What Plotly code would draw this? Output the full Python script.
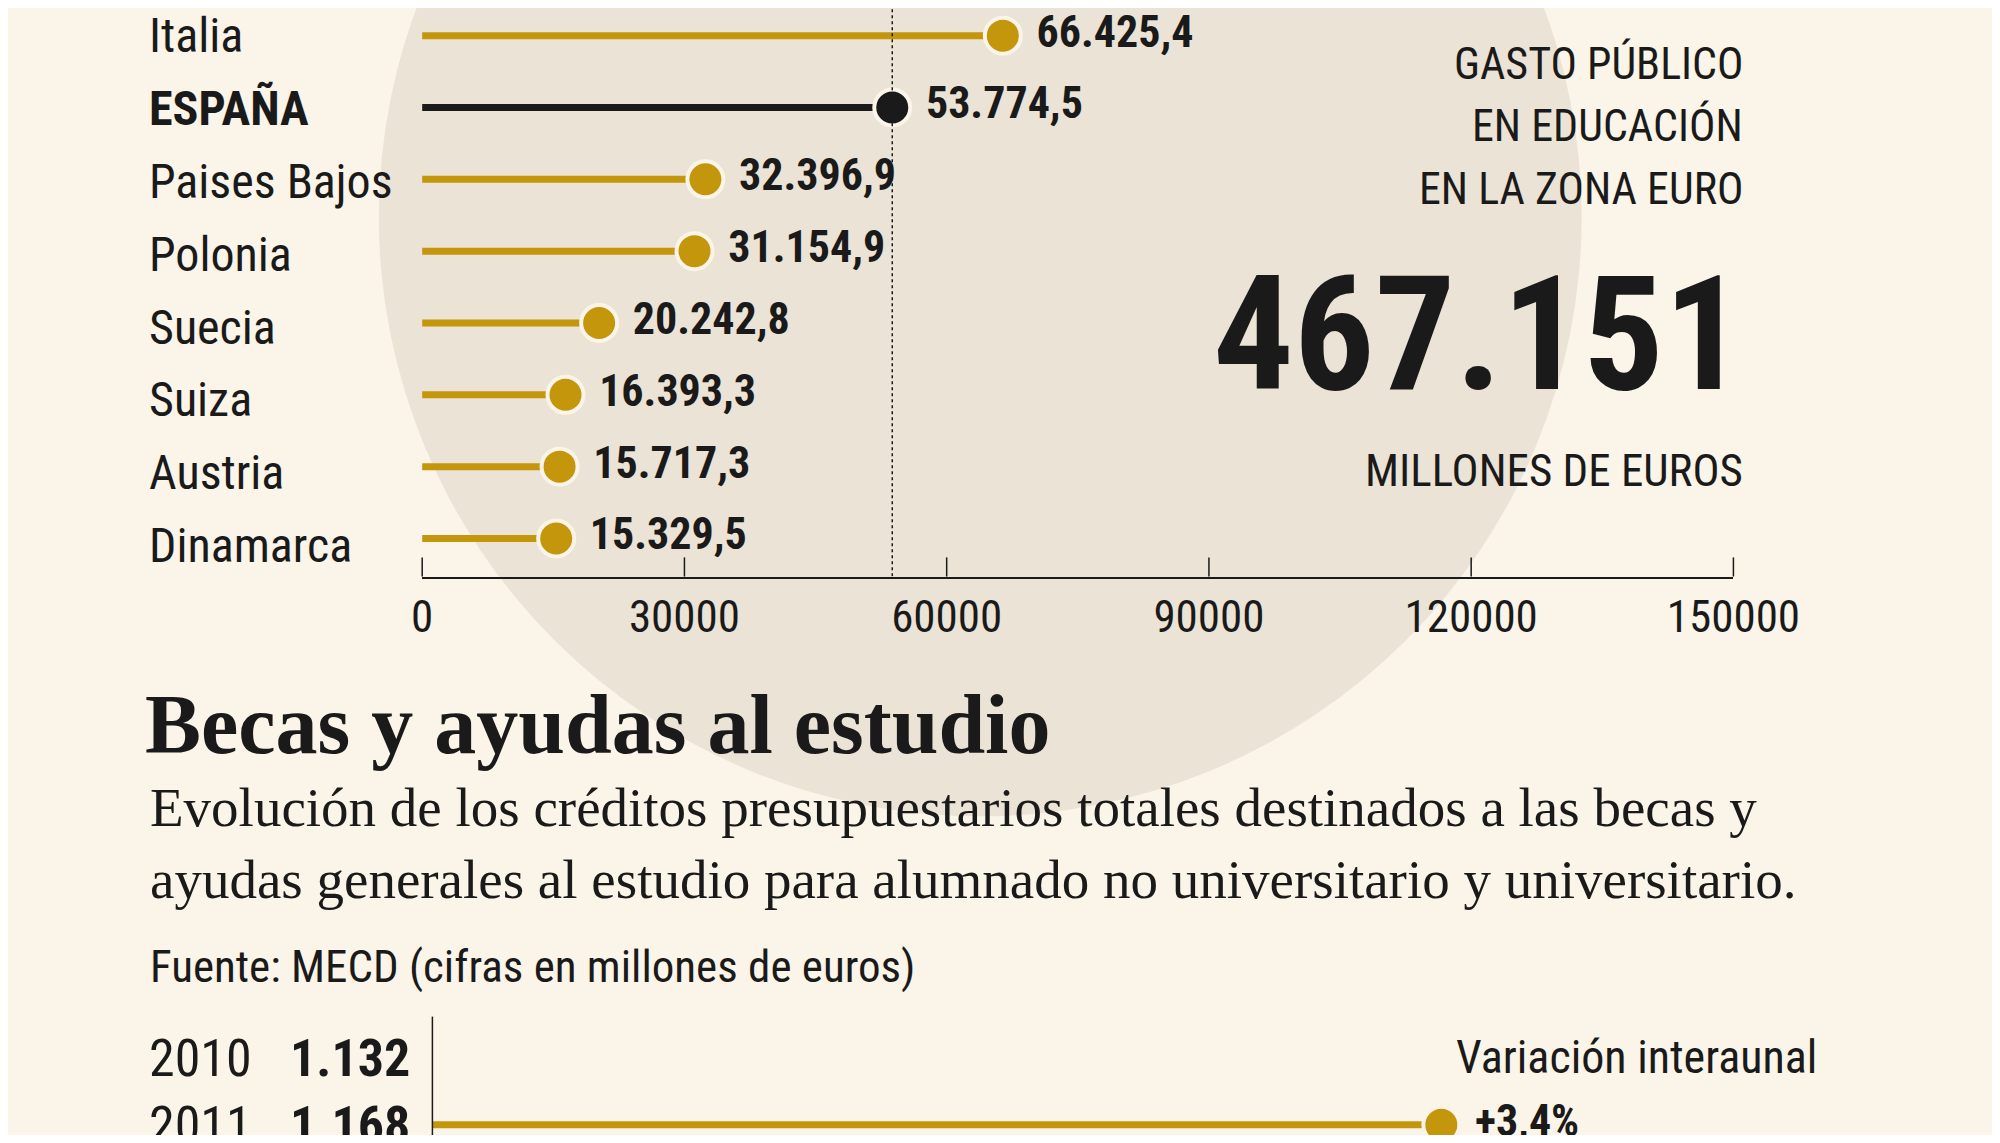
import plotly.graph_objects as go

# datos
paises = ["Italia", "ESPAÑA", "Paises Bajos", "Polonia", "Suecia", "Suiza", "Austria", "Dinamarca"]
gasto = [66425.4, 53774.5, 32396.9, 31154.9, 20242.8, 16393.3, 15717.3, 15329.5]
gasto_txt = ["66.425,4", "53.774,5", "32.396,9", "31.154,9", "20.242,8", "16.393,3", "15.717,3", "15.329,5"]
x_ticks = [0, 30000, 60000, 90000, 120000, 150000]

anios = ["2010", "2011"]
becas_txt = ["1.132", "1.168"]
variacion = [None, 3.4]
variacion_txt = ["", "+3,4%"]

# referencia medida en 1568x896, figura real 1984x1127 (margen del body 8px)
W, H = 1568, 896
S = 2000 / 1568
FW, FH = 1984, 1127
BG = "#fbf4e8"
GOLD = "#c4960c"
DARK = "#1a1a1a"
NARROW = "Liberation Sans Narrow, Roboto Condensed, Arial Narrow, sans-serif"
SERIF = "Liberation Serif, DejaVu Serif, serif"

def px(x):
    return (x * S - 8) / FW

def py(y):
    return 1 - (y * S - 8) / FH

fig = go.Figure()

# lollipops
colores = [DARK if p == "ESPAÑA" else GOLD for p in paises]
idx = list(range(len(paises)))
for i, v in enumerate(gasto):
    fig.add_trace(go.Scatter(x=[-1300, v], y=[i, i], mode="lines",
                             line=dict(color=colores[i], width=7), hoverinfo="skip"))
fig.add_trace(go.Scatter(x=gasto, y=idx, mode="markers+text",
                         marker=dict(size=36, color=colores, line=dict(color=BG, width=4)),
                         text=gasto_txt, textposition="middle right",
                         textfont=dict(family=NARROW, size=44, color=DARK),
                         texttemplate="<b> %{text}</b>", cliponaxis=False))
# linea punteada España
fig.add_trace(go.Scatter(x=[gasto[1], gasto[1]], y=[-0.45, 7.53], mode="lines",
                         line=dict(color=DARK, width=1.5, dash="dot"), hoverinfo="skip"))

# segundo grafico
fig.add_trace(go.Scatter(x=[0, variacion[1]], y=[1, 1], xaxis="x2", yaxis="y2", mode="lines",
                         line=dict(color=GOLD, width=7), hoverinfo="skip"))
fig.add_trace(go.Scatter(x=variacion, y=[0, 1], xaxis="x2", yaxis="y2", mode="markers+text",
                         marker=dict(size=36, color=GOLD, line=dict(color=BG, width=4)),
                         text=variacion_txt, textposition="middle right",
                         textfont=dict(family=NARROW, size=44, color=DARK),
                         texttemplate="<b> %{text}</b>", cliponaxis=False))

ann = []
for i, p in enumerate(paises):
    label = "<b>%s</b>" % p if p == "ESPAÑA" else p
    ann.append(dict(x=px(115), y=py(28 + 57.1 * i), xref="paper", yref="paper", text=label,
                    showarrow=False, xanchor="left", yanchor="middle",
                    font=dict(family=NARROW, size=48, color=DARK)))
for t, yy in [("GASTO PÚBLICO", 50), ("EN EDUCACIÓN", 99), ("EN LA ZONA EURO", 148)]:
    ann.append(dict(x=px(1368), y=py(yy), xref="paper", yref="paper", text=t, showarrow=False,
                    xanchor="right", yanchor="middle", font=dict(family=NARROW, size=44, color=DARK)))
ann.append(dict(x=px(1370), y=py(262), xref="paper", yref="paper", text="<b>467.151</b>",
                showarrow=False, xanchor="right", yanchor="middle",
                font=dict(family=NARROW, size=160, color=DARK)))
ann.append(dict(x=px(1368), y=py(369), xref="paper", yref="paper", text="MILLONES DE EUROS",
                showarrow=False, xanchor="right", yanchor="middle",
                font=dict(family=NARROW, size=45, color=DARK)))
ann.append(dict(x=px(112), y=py(568), xref="paper", yref="paper", text="<b>Becas y ayudas al estudio</b>",
                showarrow=False, xanchor="left", yanchor="middle",
                font=dict(family=SERIF, size=84, color=DARK)))
ann.append(dict(x=px(116), y=py(661), xref="paper", yref="paper",
                text="Evolución de los créditos presupuestarios totales destinados a las becas y<br>"
                     "ayudas generales al estudio para alumnado no universitario y universitario.",
                showarrow=False, xanchor="left", yanchor="middle", align="left",
                font=dict(family=SERIF, size=55, color=DARK)))
ann.append(dict(x=px(116), y=py(758), xref="paper", yref="paper",
                text="Fuente: MECD (cifras en millones de euros)", showarrow=False,
                xanchor="left", yanchor="middle", font=dict(family=NARROW, size=45, color=DARK)))
ann.append(dict(x=px(1426), y=py(829), xref="paper", yref="paper", text="Variación interaunal",
                showarrow=False, xanchor="right", yanchor="middle",
                font=dict(family=NARROW, size=46, color=DARK)))
for i, a in enumerate(anios):
    yy = 830 + 52 * i
    ann.append(dict(x=px(115), y=py(yy), xref="paper", yref="paper", text=a, showarrow=False,
                    xanchor="left", yanchor="middle", font=dict(family=NARROW, size=52, color=DARK)))
    ann.append(dict(x=px(226), y=py(yy), xref="paper", yref="paper", text="<b>%s</b>" % becas_txt[i],
                    showarrow=False, xanchor="left", yanchor="middle",
                    font=dict(family=NARROW, size=52, color=DARK)))

shapes = [
    dict(type="circle", xref="paper", yref="paper", layer="below",
         x0=px(297), x1=px(1240), y0=py(640), y1=py(-300), fillcolor="#ebe3d5", line=dict(width=0)),
    dict(type="line", xref="paper", yref="paper", x0=px(339), x1=px(339), y0=py(797), y1=py(910),
         line=dict(color=DARK, width=1.5)),
]
for t in x_ticks:
    xx = 331 + (1359 - 331) * t / 150000
    shapes.append(dict(type="line", xref="paper", yref="paper", x0=px(xx), x1=px(xx),
                       y0=py(452), y1=py(437), line=dict(color=DARK, width=1.5)))

fig.update_layout(
    width=FW, height=FH, margin=dict(l=0, r=0, t=0, b=0, autoexpand=False),
    paper_bgcolor=BG, plot_bgcolor="rgba(0,0,0,0)", showlegend=False,
    annotations=ann, shapes=shapes,
    xaxis=dict(domain=[px(331), px(1359)], range=[0, 150000], tickvals=x_ticks,
               ticktext=[str(t) for t in x_ticks], showgrid=False, zeroline=False,
               showline=True, linecolor=DARK, linewidth=1.5, ticks="",
               tickfont=dict(family=NARROW, size=45, color=DARK), anchor="y"),
    yaxis=dict(domain=[py(452), 1], range=[7.53, -0.385], visible=False),
    xaxis2=dict(domain=[px(339), px(1500)], range=[0, 3.4 * (1500 - 339) / (1130 - 339)],
                visible=False, anchor="y2"),
    yaxis2=dict(domain=[0, py(797)], range=[1.153, -0.635], visible=False, anchor="x2"),
)
fig.write_html("out.html")
